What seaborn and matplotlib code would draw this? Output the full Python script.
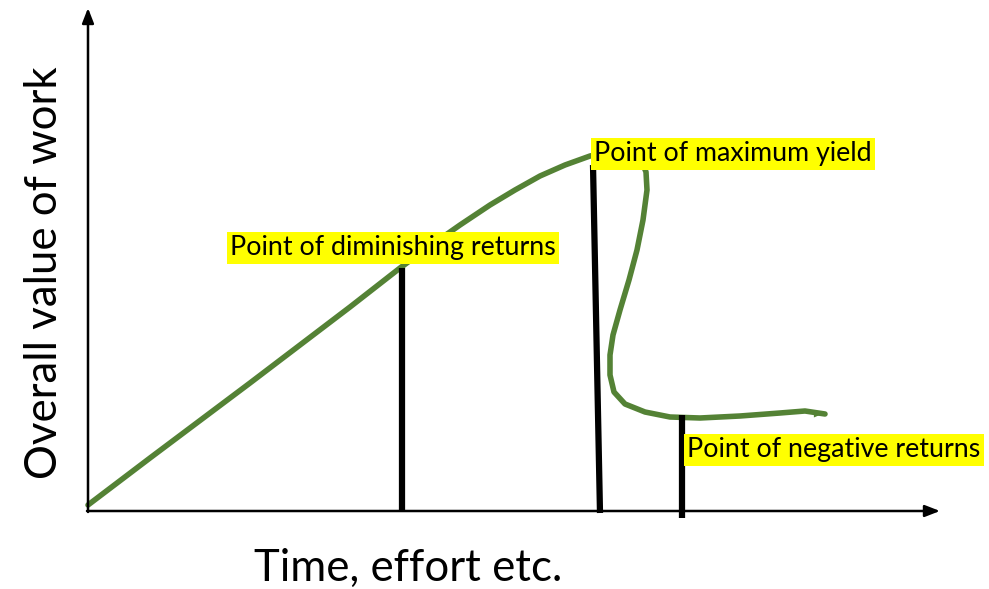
import matplotlib
matplotlib.use("Agg")
import matplotlib.pyplot as plt
import seaborn as sns
import pandas as pd

# curve drawn in pixel-like coordinates (y grows downward)
curve_x = [88, 150, 250, 350, 400, 430, 460, 490, 515, 540, 565, 590, 610, 628, 641,
           646, 647, 643, 637, 629, 620, 613, 610, 610, 614, 625, 645, 670, 700, 740,
           780, 805, 825]
curve_y = [505, 458, 383, 307, 268, 246, 225, 205, 190, 176, 165, 156, 152, 153, 160,
           172, 190, 220, 250, 280, 310, 335, 355, 375, 392, 404, 412, 417, 418, 416,
           413, 411, 414]

# vertical markers: (x_top, y_top, x_bottom, y_bottom)
marker_x_top = [402, 593, 682]
marker_y_top = [268, 165, 415]
marker_x_bot = [402, 600, 682]
marker_y_bot = [512, 513, 518]

labels = ["Point of diminishing returns", "Point of maximum yield", "Point of negative returns"]
label_x = [230, 594, 687]
label_y = [248, 154, 450]

x_label = "Time, effort etc."
y_label = "Overall value of work"

sns.set_style("white")
plt.rcParams['font.family'] = ['Lato', 'DejaVu Sans']

fig = plt.figure(figsize=(9.89, 5.89), dpi=100)
ax = fig.add_axes([0, 0, 1, 1])
ax.set_xlim(0, 989)
ax.set_ylim(589, 0)
ax.axis("off")

green = "#548235"
df = pd.DataFrame({"x": curve_x, "y": curve_y})
sns.lineplot(data=df, x="x", y="y", sort=False, estimator=None, color=green, lw=4,
             ax=ax, solid_capstyle="round", solid_joinstyle="round")
# small arrow tip at the end of the curve
ax.annotate("", xy=(curve_x[-1], curve_y[-1]), xytext=(curve_x[-3], curve_y[-3] + 1),
            arrowprops=dict(arrowstyle="-|>,head_length=0.6,head_width=0.25",
                            color=green, lw=0))

# axes with arrows
ax.annotate("", xy=(940, 511), xytext=(87, 511),
            arrowprops=dict(arrowstyle="-|>,head_length=0.9,head_width=0.35",
                            color="black", lw=1.8, shrinkA=0, shrinkB=0))
ax.annotate("", xy=(88, 8), xytext=(88, 512),
            arrowprops=dict(arrowstyle="-|>,head_length=0.9,head_width=0.35",
                            color="black", lw=1.8, shrinkA=0, shrinkB=0))

for xt, yt, xb, yb in zip(marker_x_top, marker_y_top, marker_x_bot, marker_y_bot):
    ax.plot([xt, xb], [yt, yb], color="black", lw=4.5, solid_capstyle="butt")

for txt, lx, ly in zip(labels, label_x, label_y):
    ax.text(lx, ly, txt, fontsize=19.3, va="center", ha="left", color="black",
            bbox=dict(facecolor="#ffff00", edgecolor="none", pad=2.5))

ax.text(408, 568, x_label, fontsize=31.5, ha="center", va="center", color="black")
ax.text(45, 273, y_label, fontsize=31.5, ha="center", va="center", rotation=90,
        color="black")

fig.savefig("out.png", dpi=100)
